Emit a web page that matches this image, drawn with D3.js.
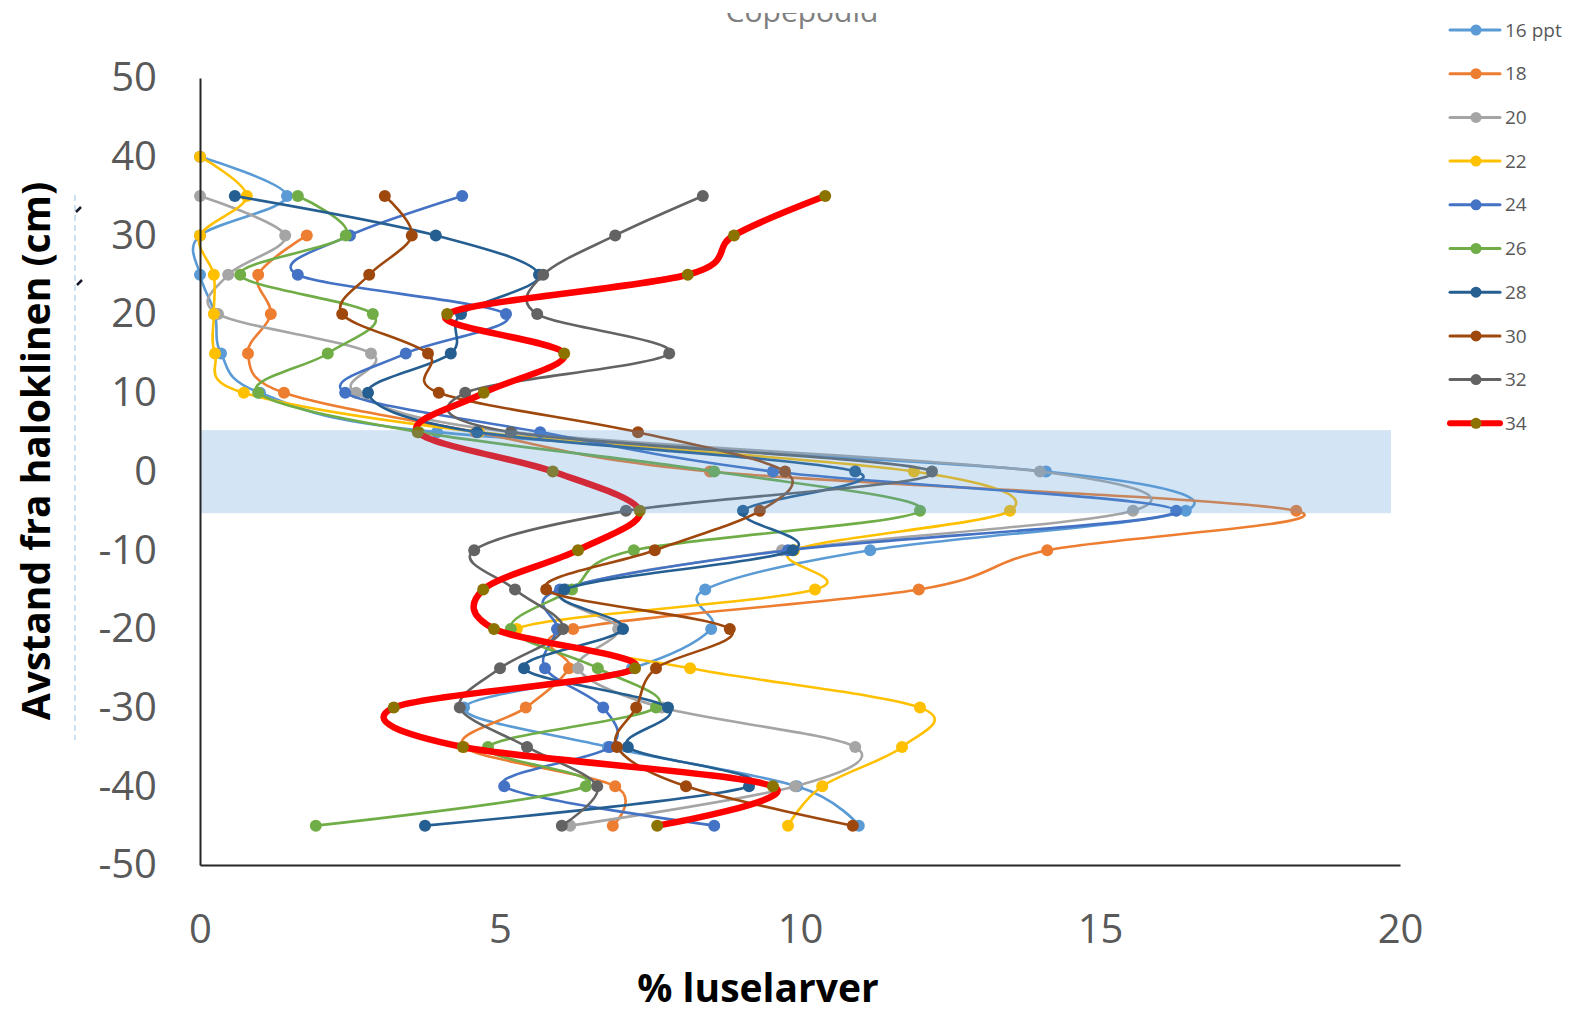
<!DOCTYPE html>
<html>
<head>
<meta charset="utf-8">
<script src="https://cdn.jsdelivr.net/npm/d3@7"></script>
<style>
  html, body { margin: 0; padding: 0; background: #fff; }
  svg { display: block; font-family: "Open Sans", sans-serif; }
</style>
</head>
<body>
<svg id="chart" width="1572" height="1012"></svg>
<script>
// ---- data ----
const depths = [40, 35, 30, 25, 20, 15, 10, 5, 0, -5, -10, -15, -20, -25, -30, -35, -40, -45];
const seriesNames = ["16 ppt", "18", "20", "22", "24", "26", "28", "30", "32", "34"];
const s16 = [0, 1.45, 0, 0, 0.25, 0.35, 1.0, 3.95, 14.1, 16.43, 11.17, 8.42, 8.52, 7.2, 4.4, 6.8, 9.95, 10.98];
const s18 = [null, null, 1.78, 0.97, 1.18, 0.8, 1.4, 4.6, 8.5, 18.27, 14.12, 11.98, 6.22, 6.15, 5.43, 4.4, 6.92, 6.88];
const s20 = [null, 0, 1.42, 0.47, 0.3, 2.85, 2.6, 5.2, 14.0, 15.55, 9.7, 6.1, 6.97, 6.3, 7.7, 10.92, 9.92, 6.17];
const s22 = [0, 0.78, 0, 0.23, 0.23, 0.25, 0.73, 4.65, 11.9, 13.5, 9.9, 10.25, 5.28, 8.17, 12.0, 11.7, 10.37, 9.8];
const s24 = [null, 4.37, 2.5, 1.63, 5.1, 3.43, 2.42, 5.67, 9.55, 16.27, 9.8, 6.0, 5.95, 5.75, 6.72, 6.83, 5.07, 8.57];
const s26 = [null, 1.63, 2.43, 0.67, 2.88, 2.13, 0.97, 3.65, 8.57, 12.0, 7.23, 6.2, 5.18, 6.63, 7.6, 4.8, 6.43, 1.93];
const s28 = [null, 0.58, 3.93, 5.65, 4.35, 4.18, 2.8, 4.62, 10.92, 9.05, 9.88, 6.07, 7.05, 5.4, 7.8, 7.13, 9.15, 3.75];
const s30 = [null, 3.08, 3.53, 2.82, 2.37, 3.8, 3.98, 7.3, 9.75, 9.33, 7.58, 5.77, 8.83, 7.6, 7.27, 6.95, 8.1, 10.88];
const s32 = [null, 8.38, 6.92, 5.72, 5.62, 7.82, 4.42, 5.18, 12.2, 7.1, 4.57, 5.25, 6.05, 5.0, 4.33, 5.45, 6.62, 6.03];
const s34 = [null, 10.42, 8.9, 8.13, 4.12, 6.07, 4.73, 3.63, 5.88, 7.33, 6.3, 4.72, 4.9, 7.25, 3.23, 4.38, 9.55, 7.62];
const seriesValues = [s16, s18, s20, s22, s24, s26, s28, s30, s32, s34];
const xTicks = [0, 5, 10, 15, 20];
const yTicks = [50, 40, 30, 20, 10, 0, -10, -20, -30, -40, -50];
const bandDepth = [5.25, -5.3];
const bandX = [0, 19.85];

// ---- styles ----
const lineColors = ["#5B9BD5", "#ED7D31", "#A5A5A5", "#FFC000", "#4472C4", "#70AD47", "#255E91", "#9E480E", "#636363", "#FF0000"];
const markerColors = ["#5B9BD5", "#ED7D31", "#A5A5A5", "#FFC000", "#4472C4", "#70AD47", "#255E91", "#9E480E", "#636363", "#8C7300"];
const lineWidths = [2.6, 2.6, 2.6, 2.6, 2.6, 2.6, 2.6, 2.6, 2.6, 6.5];

const svg = d3.select("#chart");
const x = d3.scaleLinear().domain([0, 20]).range([200, 1400]);
const y = d3.scaleLinear().domain([-50, 50]).range([865, 78]);

// title (partly cut off at top, as in the reference)
svg.append("text").attr("x", 802).attr("y", 22).attr("text-anchor", "middle")
  .attr("font-size", 30).attr("fill", "#7f7f7f").text("Copepodid");
svg.append("rect").attr("x", 600).attr("y", 0).attr("width", 400).attr("height", 13).attr("fill", "#fff");

// series
const line = d3.line().x(d => x(d.v)).y(d => y(d.d)).curve(d3.curveCardinal.tension(0));
seriesValues.forEach((vals, i) => {
  const pts = vals.map((v, j) => ({ v: v, d: depths[j] })).filter(p => p.v !== null);
  const g = svg.append("g");
  g.append("path").datum(pts).attr("d", line).attr("fill", "none")
    .attr("stroke", lineColors[i]).attr("stroke-width", lineWidths[i])
    .attr("stroke-linejoin", "round").attr("stroke-linecap", "round");
  g.selectAll("circle").data(pts).join("circle")
    .attr("cx", d => x(d.v)).attr("cy", d => y(d.d)).attr("r", 6)
    .attr("fill", markerColors[i]);
});

// translucent band over halocline
svg.append("rect")
  .attr("x", x(bandX[0])).attr("width", x(bandX[1]) - x(bandX[0]))
  .attr("y", y(bandDepth[0])).attr("height", y(bandDepth[1]) - y(bandDepth[0]))
  .attr("fill", "#5B9BD5").attr("opacity", 0.27);

// axes
const fmt = d => String(d);
const yAxis = d3.axisLeft(y).tickValues(yTicks).tickFormat(fmt).tickSize(0).tickSizeOuter(0).tickPadding(43);
const gy = svg.append("g").attr("transform", "translate(200,0)").call(yAxis);
const xAxis = d3.axisBottom(x).tickValues(xTicks).tickFormat(fmt).tickSize(0).tickSizeOuter(0).tickPadding(50);
const gx = svg.append("g").attr("transform", "translate(0,865)").call(xAxis);
[gx, gy].forEach(g => {
  g.select(".domain").attr("stroke", "#262626").attr("stroke-width", 2);
  g.selectAll("text").attr("font-size", 40).attr("fill", "#595959").attr("font-family", "Open Sans, sans-serif");
});

// axis titles
svg.append("text").attr("transform", "translate(50,451) rotate(-90)")
  .attr("text-anchor", "middle").attr("font-size", 39).attr("font-weight", "bold")
  .attr("fill", "#000").text("Avstand fra haloklinen (cm)");
svg.append("text").attr("x", 758).attr("y", 1002).attr("text-anchor", "middle")
  .attr("font-size", 39).attr("font-weight", "bold").attr("fill", "#000").text("% luselarver");

// dashed guide and small marks near y title
svg.append("line").attr("x1", 75).attr("x2", 75).attr("y1", 195).attr("y2", 740)
  .attr("stroke", "#9DC3E6").attr("stroke-width", 1).attr("stroke-dasharray", "6 4");
svg.append("line").attr("x1", 76).attr("x2", 81).attr("y1", 212).attr("y2", 207)
  .attr("stroke", "#1a1a2e").attr("stroke-width", 2.5);
svg.append("line").attr("x1", 77).attr("x2", 82).attr("y1", 285).attr("y2", 280)
  .attr("stroke", "#1a1a2e").attr("stroke-width", 2.5);

// legend
const leg = svg.append("g");
seriesNames.forEach((name, i) => {
  const ly = 30 + i * 43.7;
  leg.append("line").attr("x1", 1450).attr("x2", 1500).attr("y1", ly).attr("y2", ly)
    .attr("stroke", lineColors[i]).attr("stroke-width", i === 9 ? 6 : 3).attr("stroke-linecap", "round");
  leg.append("circle").attr("cx", 1476).attr("cy", ly).attr("r", 5.5).attr("fill", markerColors[i]);
  leg.append("text").attr("x", 1505).attr("y", ly).attr("dy", "0.35em")
    .attr("font-size", 19).attr("fill", "#595959").text(name);
});
</script>
</body>
</html>
